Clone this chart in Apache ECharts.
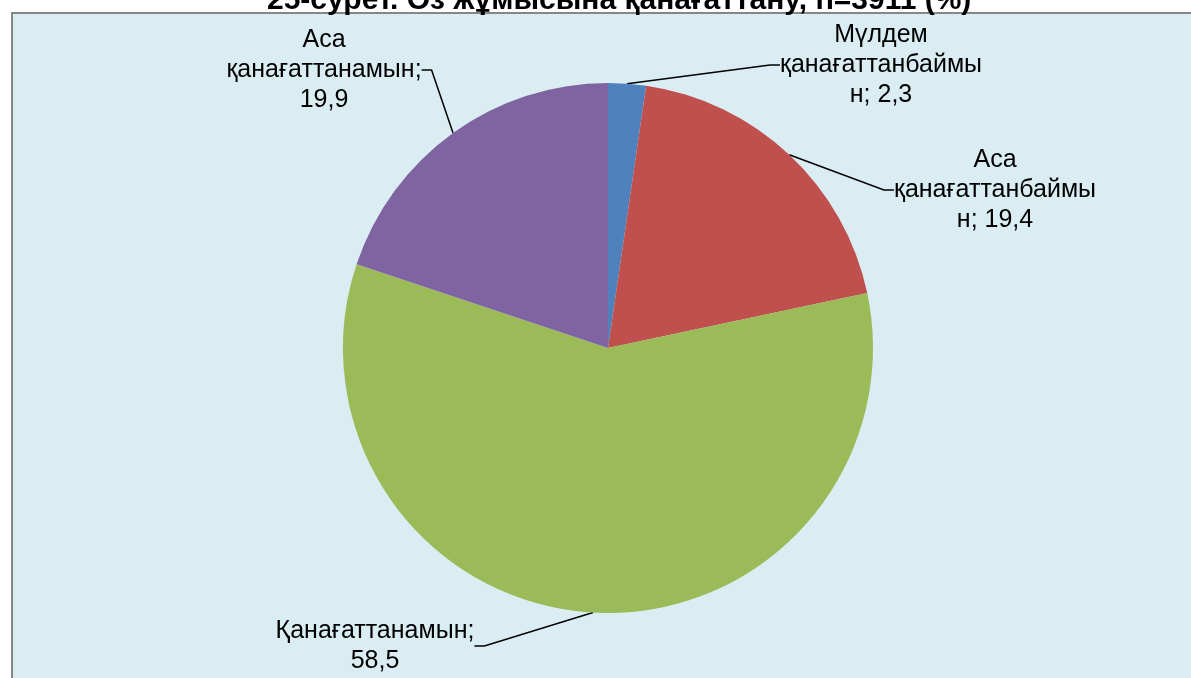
<!DOCTYPE html>
<html>
<head>
<meta charset="utf-8">
<script src="https://cdn.jsdelivr.net/npm/echarts@6/dist/echarts.min.js"></script>
<style>
  html, body { margin: 0; padding: 0; background: #fff; }
  #main { width: 1191px; height: 678px; }
</style>
</head>
<body>
<div id="main"></div>
<script>
// slice names, as wrapped in the picture
const categories = ['Мүлдем қанағаттанбаймын', 'Аса қанағаттанбаймын', 'Қанағаттанамын', 'Аса қанағаттанамын']
const labelTexts = ['Мүлдем\nқанағаттанбаймы\nн', 'Аса\nқанағаттанбаймы\nн', 'Қанағаттанамын', 'Аса\nқанағаттанамын']
const values = [2.3, 19.4, 58.5, 19.9]
const colors = ['#4F81BD', '#C0504D', '#9BBB59', '#8064A2']
// where each label block sits
const labelPos = [[881, 65], [995, 190], [375, 646], [324, 70]]

const chartDom = document.getElementById('main')
const myChart = echarts.init(chartDom)
var option
option = {
  animation: false,
  title: {
    text: '25-сурет. Өз жұмысына қанағаттану, n=3911 (%)',
    left: 262,
    top: -19,
    textStyle: {
      fontFamily: 'Liberation Sans, Arial',
      fontWeight: 'bold',
      fontSize: 30,
      color: '#000'
    }
  },
  graphic: [
    {
      type: 'rect',
      z: -10,
      shape: { x: 12, y: 13, width: 1220, height: 720 },
      style: { fill: '#DAEDF3', stroke: '#868686', lineWidth: 2 }
    }
  ],
  series: [
    {
      type: 'pie',
      center: [608, 348],
      radius: 265,
      startAngle: 90,
      clockwise: true,
      avoidLabelOverlap: false,
      itemStyle: { borderWidth: 0 },
      label: {
        show: true,
        color: '#000',
        fontFamily: 'Liberation Sans, Arial',
        fontSize: 25,
        lineHeight: 30,
        align: 'center',
        formatter: (p) => {
          const t = labelTexts[p.dataIndex]
          return p.dataIndex === 2 || p.dataIndex === 3
            ? t + ';\n' + String(p.value).replace('.', ',')
            : t + '; ' + String(p.value).replace('.', ',')
        }
      },
      labelLine: {
        show: true,
        length: 10,
        length2: 10,
        lineStyle: { color: '#000', width: 1.5 }
      },
      labelLayout: (params) => {
        const pos = labelPos[params.dataIndex]
        return { x: pos[0], y: pos[1], align: 'center', verticalAlign: 'middle' }
      },
      data: values.map((v, i) => ({
        name: categories[i],
        value: v,
        itemStyle: { color: colors[i] }
      }))
    }
  ]
}
option && myChart.setOption(option)
</script>
</body>
</html>
